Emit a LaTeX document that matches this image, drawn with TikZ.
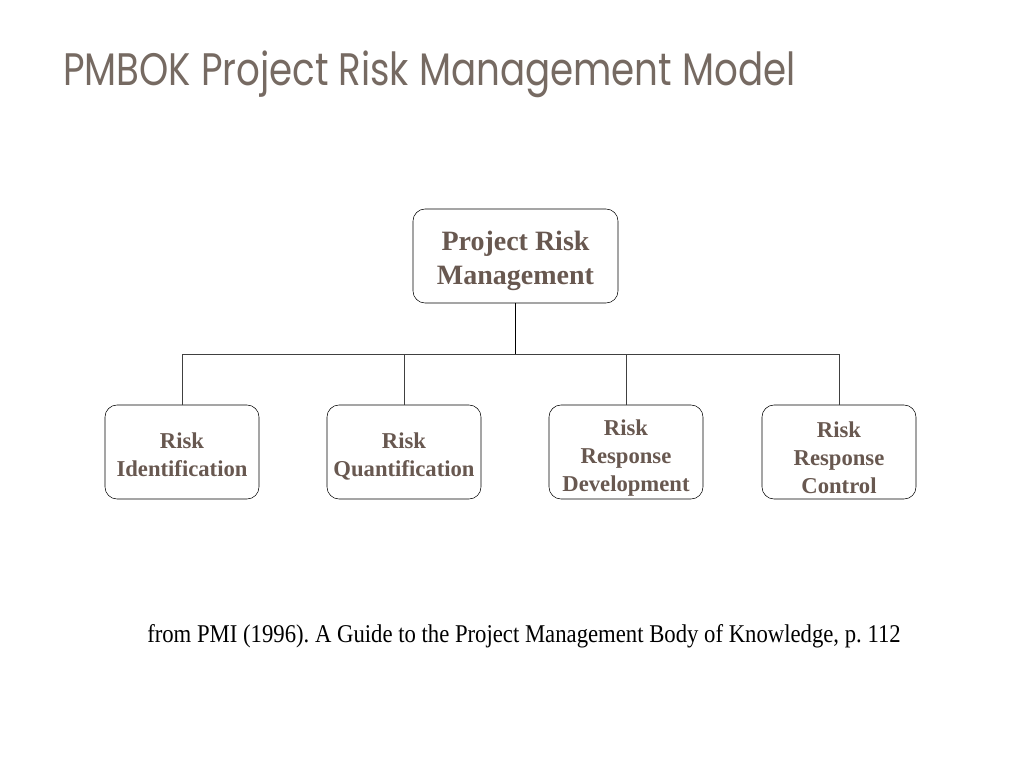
\documentclass[tikz,border=0pt]{standalone}
\usepackage{fontspec}
\setmainfont{Liberation Serif}
\newfontfamily\titlefont{Poppins}
\usetikzlibrary{positioning}
\definecolor{titlegray}{RGB}{118,106,98}
\definecolor{boxtext}{RGB}{104,88,80}
\frenchspacing
\begin{document}
\begin{tikzpicture}[x=0.75pt,y=-0.75pt,
  box/.style={draw,rounded corners=9pt,minimum width=115.5pt,minimum height=70.5pt,inner sep=0pt},
  topbox/.style={box,minimum width=153.75pt},
  boxlabel/.style={align=center,text=boxtext,inner sep=0pt,font=\bfseries\fontsize{17}{21}\selectfont},
  toplabel/.style={boxlabel,font=\bfseries\fontsize{21}{25.5}\selectfont}]
\useasboundingbox[fill=white] (0,0) rectangle (1024,768);
\node[anchor=base west,inner sep=0pt,text=titlegray] (title) at (63,85) {\resizebox{549pt}{26pt}{\titlefont PMBOK Project Risk Management Model}};
% boxes
\node[topbox] (pm) at (515.5,256) {};
\node[box] (ri) at (182,452) {};
\node[box] (rq) at (404,452) {};
\node[box] (rrd) at (626,452) {};
\node[box] (rrc) at (839,452) {};
% box texts
\node[toplabel] (pmtext) at ([yshift=-3.6pt]pm.center) {Project Risk\\Management};
\node[boxlabel] (ritext) at ([yshift=-2.4pt]ri.center) {Risk\\Identification};
\node[boxlabel] (rqtext) at ([yshift=-3.6pt]rq.center) {Risk\\Quantification};
\node[boxlabel] (rrdtext) at ([yshift=-4.5pt]rrd.center) {Risk\\Response\\Development};
\node[boxlabel] (rrctext) at ([yshift=-4.5pt]rrc.center) {Risk\\Response\\Control};
% tree lines
\coordinate (bus) at (515.5,354);
\draw[line width=1.2pt] (pm.south) -- (bus);
\draw[draw=black!75] (ri.north |- bus) -- (rrc.north |- bus);
\draw[draw=black!75] (ri.north |- bus) -- (ri.north);
\draw[draw=black!75] (rq.north |- bus) -- (rq.north);
\draw[draw=black!75] (rrd.north |- bus) -- (rrd.north);
\draw[draw=black!75] (rrc.north |- bus) -- (rrc.north);
\node[anchor=base west,inner sep=0pt] (src) at (147,642) {\resizebox{565pt}{13.5pt}{from PMI (1996). A Guide to the Project Management Body of Knowledge, p. 112}};
\end{tikzpicture}
\end{document}
